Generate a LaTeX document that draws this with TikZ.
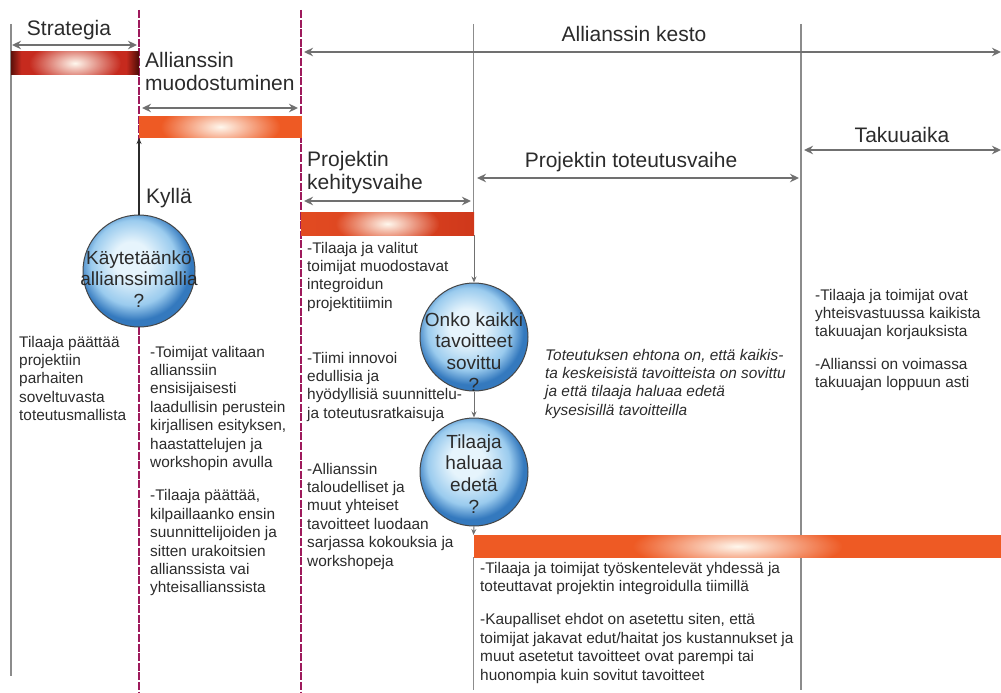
\documentclass[tikz,border=0pt]{standalone}
\usepackage{fontspec}
\setmainfont{Liberation Sans}
\usetikzlibrary{arrows.meta,fadings}

\definecolor{ink}{HTML}{2B2B2B}
\definecolor{dimline}{HTML}{707070}
\definecolor{ruleline}{HTML}{8C8C8C}
\definecolor{phase}{HTML}{9E1A5C}
\definecolor{orng}{HTML}{EE5A24}
\definecolor{glowcol}{HTML}{FFF8EE}
\definecolor{sred}{HTML}{C62A1E}
\definecolor{sdark}{HTML}{4A0C06}
\definecolor{kred}{HTML}{DC4420}
\definecolor{kredR}{HTML}{CF381B}
\definecolor{ballhi}{HTML}{E6F4FC}
\definecolor{ballmid}{HTML}{9ACBEE}
\definecolor{ballout}{HTML}{3479BE}
\definecolor{ballrim}{HTML}{454545}

% bar and ball shadings
\pgfdeclarehorizontalshading{strategyshade}{100bp}{color(0bp)=(sdark); color(25bp)=(sdark!85!sred); color(29bp)=(sred); color(70bp)=(sred); color(75bp)=(sdark); color(100bp)=(sdark)}
\pgfdeclarehorizontalshading{kehitysshade}{100bp}{color(0bp)=(kred!70!orng); color(25bp)=(kred!70!orng); color(50bp)=(kred); color(75bp)=(kredR); color(100bp)=(kredR)}
\pgfdeclareradialshading{ballshade}{\pgfpoint{-4bp}{6bp}}{color(0bp)=(ballhi); color(8bp)=(ballhi); color(19bp)=(ballmid); color(25bp)=(ballout); color(50bp)=(ballout)}
\tikzfading[name=glowfade, inner color=transparent!0, outer color=transparent!100]

\newcommand{\bodyfont}{\fontsize{15.4}{18.4}\selectfont}
\newcommand{\headfont}{\fontsize{21}{23.5}\selectfont}
\newcommand{\ballfont}{\fontsize{19}{21.8}\selectfont}
\newcommand{\txtblock}[2]{\parbox[t]{#1}{\raggedright #2}}
\newcommand{\balltxt}[1]{\parbox[t]{140pt}{\centering #1}}

\tikzset{
  rulestroke/.style={draw=ruleline, line width=1.5pt},
  gatestroke/.style={draw=phase, line width=2.8pt, dash pattern=on 8pt off 1.6pt},
  barnode/.style={rectangle, anchor=north west, inner sep=0pt, outer sep=0pt, minimum height=22.5pt},
  dimarrow/.style={draw=dimline, line width=2pt, {Stealth[length=9pt,width=8.5pt]}-{Stealth[length=9pt,width=8.5pt]}},
  flowarrow/.style={draw=dimline, line width=1pt, -{Stealth[length=6pt,width=5pt]}},
  yesarrow/.style={draw=ink, line width=1.3pt, -{Stealth[length=6pt,width=5pt]}},
  ball/.style={circle, inner sep=0pt, draw=ballrim, line width=1pt, shade, shading=ballshade},
  balltext/.style={anchor=base, inner sep=0pt, text=ink, font=\ballfont},
  body/.style={anchor=base west, inner sep=0pt, text=ink, font=\bodyfont},
  headc/.style={anchor=base, inner sep=0pt, text=ink, font=\headfont},
  headl/.style={anchor=base west, inner sep=0pt, text=ink, font=\headfont},
  glow/.style={fill=glowcol, path fading=glowfade},
}

\begin{document}
\begin{tikzpicture}[x=1pt,y=-1pt]
\useasboundingbox (0,0) rectangle (1001,693);

% ---- vertical rules and phase gates ----
\coordinate (r0t) at (11,24);   \coordinate (r0b) at (11,676);
\coordinate (r1t) at (473.5,24); \coordinate (r1m) at (473.5,213);
\coordinate (r1c) at (473.5,557); \coordinate (r1b) at (473.5,690);
\coordinate (r2t) at (801,24);  \coordinate (r2b) at (801,690);
\coordinate (g1t) at (139,10);  \coordinate (g1b) at (139,693);
\coordinate (g2t) at (301,10);  \coordinate (g2b) at (301,693);
\draw[rulestroke] (r0t) -- (r0b);
\draw[rulestroke] (r1t) -- (r1m);
\draw[rulestroke] (r1c) -- (r1b);
\draw[rulestroke] (r2t) -- (r2b);
\draw[gatestroke] (g1t) -- (g1b);
\draw[gatestroke] (g2t) -- (g2b);

% ---- phase bars ----
\node[barnode, minimum width=128pt, shade, shading=strategyshade] (sbar) at (11,52) {};
\node[barnode, minimum width=163pt, fill=orng] (mbar) at (139,115.5) {};
\node[barnode, minimum width=173pt, shade, shading=kehitysshade] (kbar) at (301,212.5) {};
\node[barnode, minimum width=528pt, fill=orng] (lbar) at (473.5,535) {};

% highlights on the bars
\begin{scope}
  \clip (sbar.south west) rectangle (sbar.north east);
  \fill[glow] (sbar.center) ellipse [x radius=46, y radius=22];
\end{scope}
\begin{scope}
  \clip (mbar.south west) rectangle (mbar.north east);
  \fill[glow] (mbar.center) ellipse [x radius=60, y radius=24];
\end{scope}
\begin{scope}
  \clip (kbar.south west) rectangle (kbar.north east);
  \fill[glow] (kbar.center) ellipse [x radius=52, y radius=22];
\end{scope}
\begin{scope}
  \clip (lbar.south west) rectangle (lbar.north east);
  \fill[glow] (lbar.center) ellipse [x radius=105, y radius=24];
\end{scope}

% ---- duration arrows ----
\coordinate (aS1) at (12,45);    \coordinate (aS2) at (137,45);
\coordinate (aM1) at (142,108);  \coordinate (aM2) at (298,108);
\coordinate (aK1) at (304,52);   \coordinate (aK2) at (1001,52);
\coordinate (aD1) at (304,201);  \coordinate (aD2) at (471,201);
\coordinate (aT1) at (477,178);  \coordinate (aT2) at (799,178);
\coordinate (aW1) at (804,150);  \coordinate (aW2) at (1001,150);
\draw[dimarrow] (aS1) -- (aS2);
\draw[dimarrow] (aM1) -- (aM2);
\draw[dimarrow] (aK1) -- (aK2);
\draw[dimarrow] (aD1) -- (aD2);
\draw[dimarrow] (aT1) -- (aT2);
\draw[dimarrow] (aW1) -- (aW2);

% ---- phase headings ----
\node[headc] (hS) at (69,36) {Strategia};
\node[headl] (hM) at (145,67) {\txtblock{200pt}{Allianssin\\muodostuminen}};
\node[headc] (hK) at (634,42) {Allianssin kesto};
\node[headl] (hD) at (307,166) {\txtblock{200pt}{Projektin\\kehitysvaihe}};
\node[headc] (hT) at (631,167) {Projektin toteutusvaihe};
\node[headc] (hW) at (902,142) {Takuuaika};
\node[headl] (hY) at (146,203) {Kyllä};

% ---- decision balls ----
\node[ball, minimum size=112pt] (q1) at (139,271) {};
\node[ball, minimum size=108pt] (q2) at (474,337) {};
\node[ball, minimum size=108pt] (q3) at (474,472) {};
\node[balltext] (q1t) at (139,264) {\balltxt{Käytetäänkö\\allianssimallia\\?}};
\node[balltext] (q2t) at (474,326) {\balltxt{Onko kaikki\\tavoitteet\\sovittu\\?}};
\node[balltext] (q3t) at (474,448) {\balltxt{Tilaaja\\haluaa\\edetä\\?}};

% ---- flow connectors ----
\draw[yesarrow] (q1.north) -- (q1.north |- mbar.south);
\draw[flowarrow] (kbar.south east) -- (q2.north);
\draw[flowarrow] (q2.south) -- (q3.north);
\draw[flowarrow] (q3.south) -- (lbar.north west);

% ---- descriptions ----
\node[body] (tS) at (19,347) {\txtblock{130pt}{Tilaaja päättää\\projektiin\\parhaiten\\soveltuvasta\\toteutusmallista}};
\node[body] (tM) at (150,357) {\txtblock{160pt}{-Toimijat valitaan\\allianssiin\\ensisijaisesti\\laadullisin perustein\\kirjallisen esityksen,\\haastattelujen ja\\workshopin avulla\\[15pt]-Tilaaja päättää,\\kilpaillaanko ensin\\suunnittelijoiden ja\\sitten urakoitsien\\allianssista vai\\yhteisallianssista}};
\node[body] (tD1) at (307,253) {\txtblock{200pt}{-Tilaaja ja valitut\\toimijat muodostavat\\integroidun\\projektitiimin}};
\node[body] (tD2) at (307,363) {\txtblock{200pt}{-Tiimi innovoi\\edullisia ja\\hyödyllisiä suunnittelu-\\ja toteutusratkaisuja}};
\node[body] (tD3) at (307,474) {\txtblock{200pt}{-Allianssin\\taloudelliset ja\\muut yhteiset\\tavoitteet luodaan\\sarjassa kokouksia ja\\workshopeja}};
\node[body, font=\bodyfont\itshape] (tC) at (545,360) {\txtblock{260pt}{Toteutuksen ehtona on, että kaikis-\\ta keskeisistä tavoitteista on sovittu\\ja että tilaaja haluaa edetä\\kysesisillä tavoitteilla}};
\node[body] (tT) at (480,573) {\txtblock{400pt}{-Tilaaja ja toimijat työskentelevät yhdessä ja\\toteuttavat projektin integroidulla tiimillä\\[15pt]-Kaupalliset ehdot on asetettu siten, että\\toimijat jakavat edut/haitat jos kustannukset ja\\muut asetetut tavoitteet ovat parempi tai\\huonompia kuin sovitut tavoitteet}};
\node[body] (tW) at (815,300) {\txtblock{200pt}{-Tilaaja ja toimijat ovat\\yhteisvastuussa kaikista\\takuuajan korjauksista\\[14pt]-Allianssi on voimassa\\takuuajan loppuun asti}};
\end{tikzpicture}
\end{document}
